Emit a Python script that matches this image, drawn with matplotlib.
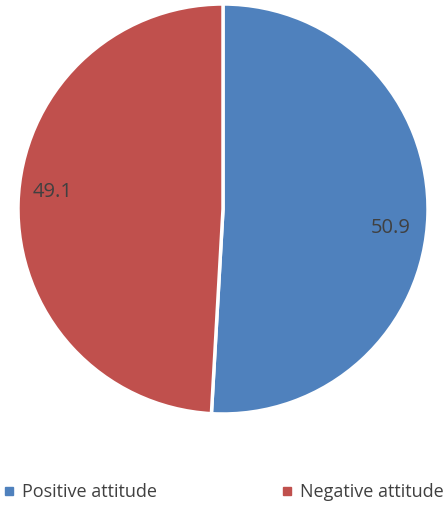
import matplotlib
matplotlib.use("Agg")
import matplotlib.pyplot as plt
from matplotlib.lines import Line2D

categories = ["Positive attitude", "Negative attitude"]
values = [50.9, 49.1]
labels = ["50.9", "49.1"]
colors = ["#4F81BD", "#C0504D"]

plt.rcParams['font.family'] = ['Open Sans', 'DejaVu Sans']

fig = plt.figure(figsize=(4.47, 5.05), dpi=100)
ax = fig.add_axes([18/447, 91/505, 410/447, 410/505])
wedges, texts = ax.pie(values, colors=colors, startangle=90, counterclock=False,
                       labels=labels, labeldistance=0.8,
                       wedgeprops=dict(edgecolor="white", linewidth=2.5),
                       textprops=dict(color="#404040", fontsize=14.5))
# Reposition labels to match reference placement
texts[0].set_position((0.82, -0.095))
texts[0].set_ha("center"); texts[0].set_va("center")
texts[1].set_position((-0.832, 0.083))
texts[1].set_ha("center"); texts[1].set_va("center")
ax.set_xlim(-1, 1)
ax.set_ylim(-1, 1)
ax.set_aspect("equal")

handles = [Line2D([], [], marker="s", linestyle="", markersize=5.5,
                  markerfacecolor=c, markeredgecolor=c) for c in colors]
fig.legend(handles, categories, loc="lower left", ncol=2, mode="expand",
           bbox_to_anchor=(0.0, 0.0, 1.0, 0.06), frameon=False,
           fontsize=13, handlelength=0.6, handletextpad=0.4,
           borderaxespad=0.0, borderpad=0.2, labelcolor="#404040")

fig.savefig("out.png", dpi=100)
